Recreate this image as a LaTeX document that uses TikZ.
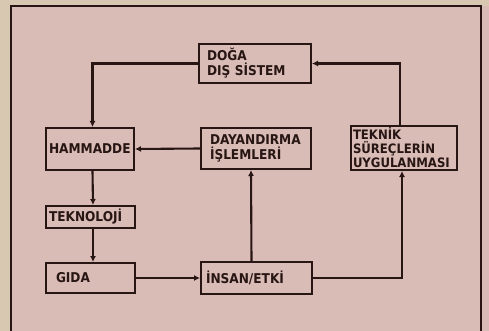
\documentclass[tikz,border=0pt]{standalone}
\usepackage{fontspec}
\usepackage{tikz}
\usetikzlibrary{arrows.meta}
\newfontfamily\kutufont{DejaVu Sans Condensed}
\definecolor{kagit}{RGB}{217,188,182}
\definecolor{kenar}{RGB}{216,200,178}
\definecolor{murekkep}{RGB}{40,22,20}
\tikzset{
  kutu/.style={draw=murekkep, line width=2pt, rectangle, anchor=west, align=left,
    inner ysep=0pt, text=murekkep, font=\kutufont\bfseries\fontsize{13.5}{15}\selectfont},
  ok/.style={draw=murekkep, line width=2.1pt, -{Latex[length=6pt,width=6pt]}}
}

\begin{document}
\begin{tikzpicture}[x=1pt,y=-1pt]
      \useasboundingbox[fill=kenar] (0,0) rectangle (489,331);
      \fill[kagit] (11,6) rectangle (489,331);
      \draw[murekkep, line width=2.8pt] (11,340) -- (11,6) -- (481,6) -- (481,340);
      \node[kutu, inner xsep=8pt, text width=96pt, minimum height=39pt] (D) at (198,63.5) {DOĞA\\DIŞ SİSTEM};
      \node[kutu, inner xsep=3pt, text width=82pt, minimum height=42pt] (H) at (45,149) {HAMMADDE};
      \node[kutu, inner xsep=9pt, text width=92pt, minimum height=41pt] (Y) at (200,148.5) {DAYANDIRMA\\İŞLEMLERİ};
      \node[kutu, inner xsep=2pt, text width=102pt, minimum height=44pt,
        font=\kutufont\bfseries\fontsize{13}{14}\selectfont] (S) at (350,148) {TEKNİK\\SÜREÇLERİN\\UYGULANMASI};
      \node[kutu, inner xsep=3pt, text width=83pt, minimum height=22pt] (T) at (45,217) {TEKNOLOJİ};
      \node[kutu, inner xsep=10pt, text width=69pt, minimum height=30pt] (G) at (45,278) {GIDA};
      \node[kutu, inner xsep=5pt, text width=101pt, minimum height=32pt] (I) at (200,278) {İNSAN/ETKİ};
      \draw [ok] (D.west) -| ([xshift=2.5pt]H.north);
      \draw [ok] ([xshift=-4pt]S.north) |- (D.east);
      \draw [ok] (Y.west) -- (H.east);
      \draw [ok] ([xshift=2.5pt]H.south) -- ([xshift=2.5pt]T.north);
      \draw [ok] ([xshift=2.5pt]T.south) -- ([xshift=2.5pt]G.north);
      \draw [ok] (G.east) -- (I.west);
      \draw [ok] ([xshift=-5pt]I.north) -- ([xshift=-5pt]Y.south);
      \draw [ok] (I.east) -| ([xshift=-2pt]S.south);
    \end{tikzpicture}
\end{document}
